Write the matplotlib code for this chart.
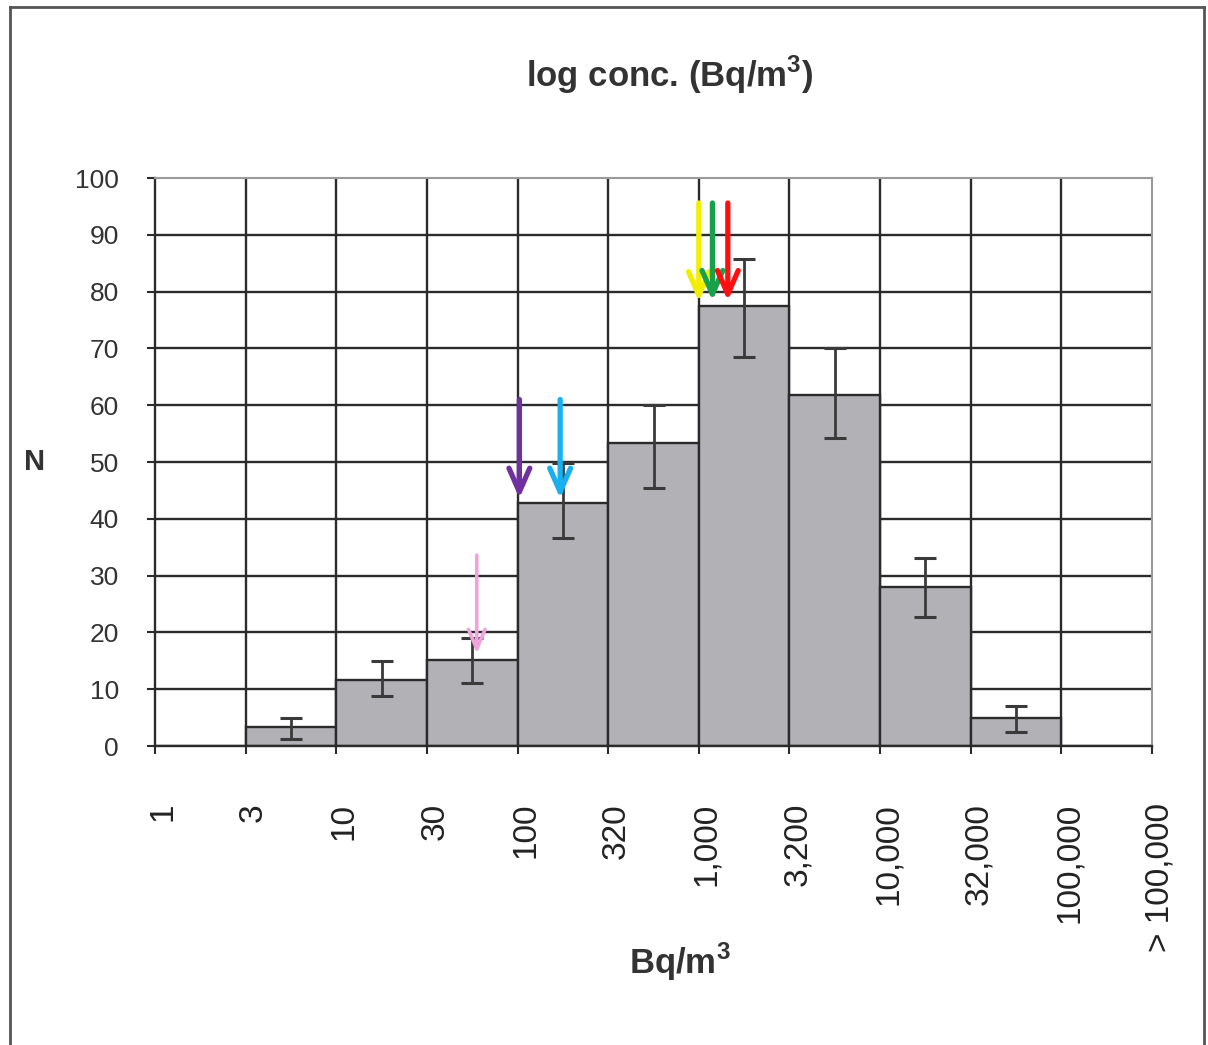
import numpy as np
import matplotlib
matplotlib.use("Agg")
import matplotlib.pyplot as plt
import matplotlib.transforms as mtransforms
from matplotlib.lines import Line2D

plt.rcParams["font.family"] = ["Liberation Sans", "DejaVu Sans"]
plt.rcParams["mathtext.fontset"] = "custom"
plt.rcParams["mathtext.rm"] = "Liberation Sans"
plt.rcParams["mathtext.bf"] = "Liberation Sans:bold"

# bin edges (Bq/m3), one label per edge
edge_labels = ["1", "3", "10", "30", "100", "320", "1,000", "3,200",
               "10,000", "32,000", "100,000", "> 100,000"]

# counts per bin, bins between consecutive edges
counts = [0, 3.3, 11.6, 15.1, 42.8, 53.3, 77.5, 61.8, 28.0, 4.9, 0]
err_upper = [0, 4.9, 15.0, 19.0, 49.8, 60.0, 85.7, 70.0, 33.1, 7.0, 0]
err_lower = [0, 1.2, 8.8, 11.1, 36.6, 45.4, 68.5, 54.2, 22.7, 2.5, 0]

# marker arrows (x in edge-index units, y in N)
arrow_x = [3.55, 4.02, 4.47, 6.0, 6.15, 6.32]
arrow_top = [33.6, 61.0, 61.0, 95.6, 95.6, 95.6]
arrow_tip = [16.3, 43.6, 43.6, 78.2, 78.4, 78.4]
arrow_colors = ["#f0a4dc", "#7030a0", "#18b0ee", "#f2ee00", "#19a04a", "#ff1010"]
arrow_widths = [2.6, 3.8, 3.8, 3.8, 3.8, 3.8]
arrow_heads = ["->,head_length=1.4,head_width=0.6"] + ["->,head_length=1.7,head_width=0.75"] * 5

counts = np.array(counts)
err_upper = np.array(err_upper)
err_lower = np.array(err_lower)
n_bins = len(counts)

fig = plt.figure(figsize=(12.08, 10.45), dpi=100)
ax = fig.add_axes([155 / 1208, 1 - 746 / 1045, 997 / 1208, 568 / 1045])

ax.set_xlim(0, n_bins)
ax.set_ylim(0, 100)

# grid behind bars
for yv in range(10, 100, 10):
    ax.axhline(yv, color="#2b2b2b", lw=1.7, zorder=0)
for xv in range(1, n_bins):
    ax.axvline(xv, color="#2b2b2b", lw=1.7, zorder=0)

left = np.arange(n_bins)
ax.bar(left, counts, width=1.0, align="edge", color="#b1b1b6",
       edgecolor="#2b2b2b", linewidth=1.7, zorder=2)

has = counts > 0
centers = left + 0.5
ax.errorbar(centers[has], counts[has],
            yerr=[counts[has] - err_lower[has], err_upper[has] - counts[has]],
            fmt="none", ecolor="#3a3a3a", elinewidth=2.0, capsize=8,
            capthick=2.2, zorder=3)

for x, y0, y1, c, w, hs in zip(arrow_x, arrow_top, arrow_tip, arrow_colors,
                               arrow_widths, arrow_heads):
    ax.annotate("", xy=(x, y1), xytext=(x, y0),
                arrowprops=dict(arrowstyle=hs, color=c, lw=w,
                                shrinkA=0, shrinkB=0),
                zorder=4)

# spines
ax.spines["left"].set_color("#2b2b2b")
ax.spines["bottom"].set_color("#2b2b2b")
ax.spines["left"].set_linewidth(1.7)
ax.spines["bottom"].set_linewidth(1.7)
ax.spines["top"].set_color("#9a9a9a")
ax.spines["right"].set_color("#9a9a9a")
ax.spines["top"].set_linewidth(1.5)
ax.spines["right"].set_linewidth(1.5)

ax.set_yticks(range(0, 101, 10))
ax.tick_params(axis="y", direction="out", length=6, width=1.5, color="#2b2b2b",
               pad=20, labelsize=19, labelcolor="#333333")
ax.set_xticks(range(n_bins + 1))
ax.set_xticklabels(edge_labels, rotation=90)
ax.tick_params(axis="x", direction="out", length=6, width=1.5, color="#2b2b2b",
               pad=35, labelsize=24, labelcolor="#222222")
offset = mtransforms.ScaledTranslation(8 / 100, 0, fig.dpi_scale_trans)
for lab in ax.get_xticklabels():
    lab.set_transform(lab.get_transform() + offset)

fig.text(670 / 1208, 1 - 75 / 1045, r"log conc. (Bq/m$^{\mathbf{3}}$)", ha="center",
         va="center", fontsize=25, fontweight="bold", color="#333333")
fig.text(35 / 1208, 1 - 462 / 1045, "N", ha="center", va="center",
         fontsize=21, fontweight="bold", color="#333333")
fig.text(680 / 1208, 1 - 962 / 1045, r"Bq/m$^{\mathbf{3}}$", ha="center", va="center",
         fontsize=25, fontweight="bold", color="#333333")

# outer frame (open at the bottom)
fx0, fx1, fy1 = 10 / 1208, 1204 / 1208, 1 - 7 / 1045
for xs, ys in [([fx0, fx0], [0, fy1]), ([fx0, fx1], [fy1, fy1]), ([fx1, fx1], [fy1, 0])]:
    fig.add_artist(Line2D(xs, ys, transform=fig.transFigure, color="#555555", lw=2))

fig.savefig("out.png", dpi=100, facecolor="white")
